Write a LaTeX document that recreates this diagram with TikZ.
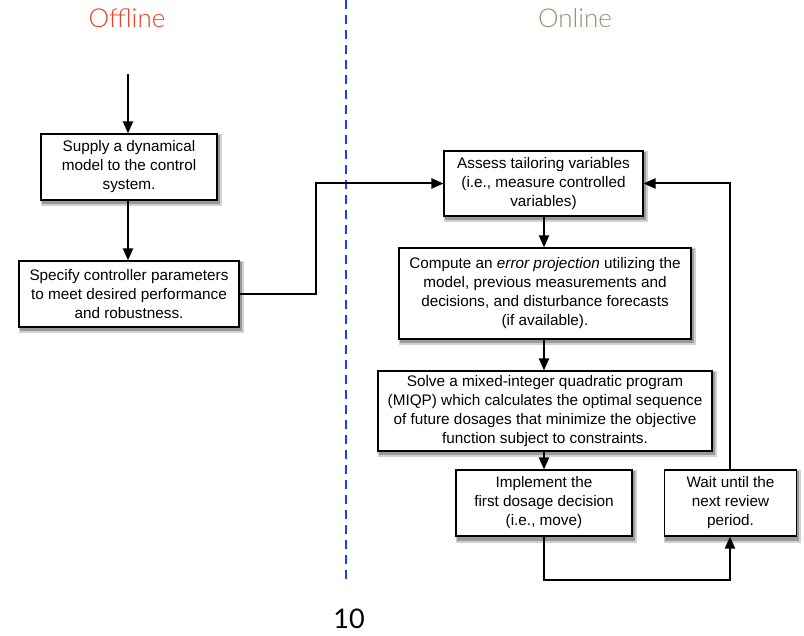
\documentclass[tikz,border=0pt]{standalone}
\usepackage{fontspec}
\setsansfont{Liberation Sans}
\newfontfamily\titlefont{Lato Light}
\newfontfamily\numfont{Lato}
\usetikzlibrary{arrows.meta}
\definecolor{offred}{RGB}{240,62,35}
\definecolor{ongreen}{RGB}{128,160,110}
\definecolor{divblue}{RGB}{30,60,255}
\newcommand\flowbox[6]{%
  \node[shadeA,minimum width=#4pt+5pt,minimum height=#5pt+6pt] (#1sa) at (#2+2,#3+3.5) {};
  \node[shadeB,minimum width=#4pt+2pt,minimum height=#5pt+3pt] (#1sb) at (#2+1.5,#3+3) {};
  \node[box,minimum width=#4pt,minimum height=#5pt] (#1) at (#2,#3) {#6};}
\begin{document}
\begin{tikzpicture}[x=1pt,y=-1pt,
  box/.style={draw=black,line width=1.1pt,fill=white,rectangle,inner sep=0pt,align=center,
    font=\sffamily\fontsize{15.3}{19}\selectfont},
  shadeA/.style={fill=black!18,draw=none,rectangle,inner sep=0pt},
  shadeB/.style={fill=black!40,draw=none,rectangle,inner sep=0pt},
  flow/.style={line width=2pt,-{Triangle[length=12pt,width=10pt]}},
  head/.style={font=\titlefont\fontsize{26}{26}\selectfont}]
\useasboundingbox (0,0) rectangle (804,636);
\draw[divblue,line width=1.6pt,dash pattern=on 9pt off 6pt] (346,0) -- (346,582);
\node[head,text=offred] (off) at (127,18) {Offline};
\node[head,text=ongreen] (on) at (575,18) {Online};
\node[font=\numfont\fontsize{27}{27}\selectfont] (pg) at (349,619) {10};

\flowbox{supply}{129}{167}{176}{66}{Supply a dynamical\\model to the control\\system.}
\flowbox{spec}{129}{294}{220}{66}{Specify controller parameters\\to meet desired performance\\and robustness.}
\flowbox{assess}{543.5}{183.5}{199}{65}{Assess tailoring variables\\(i.e., measure controlled\\variables)}
\flowbox{comp}{545}{293.5}{292}{91}{Compute an \textit{error projection} utilizing the\\model, previous measurements and\\decisions, and disturbance forecasts\\(if available).}
\flowbox{solve}{545}{411}{334}{80}{Solve a mixed-integer quadratic program\\(MIQP) which calculates the optimal sequence\\of future dosages that minimize the objective\\function subject to constraints.}
\flowbox{impl}{544}{503}{176}{66}{Implement the\\first dosage decision\\(i.e., move)}
\flowbox{wait}{730.5}{503}{132}{66}{Wait until the\\next review\\period.}

\coordinate (start) at (128,74);
\draw[flow] (start) -- (start |- supply.north);
\draw[flow] (supply.south -| start) -- (start |- spec.north);
\draw[flow] (spec.east) -- (316,294) -- (316,183.5) -- (assess.west);
\draw[flow] (assess.south -| 544,0) -- (544,0 |- comp.north);
\draw[flow] (comp.south -| 544,0) -- (544,0 |- solve.north);
\draw[flow] (solve.south -| 544,0) -- (544,0 |- impl.north);
\draw[flow] (impl.south) -- (544,580) -- (730,580) -- (730,0 |- wait.south);
\draw[flow] (730,0 |- wait.north) -- (730,183.5) -- (assess.east);
\end{tikzpicture}
\end{document}
